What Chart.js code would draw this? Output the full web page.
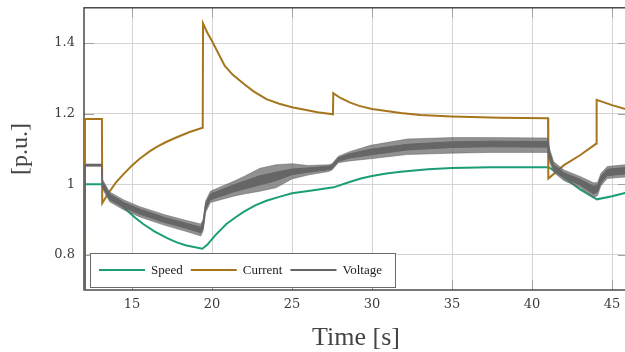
<!DOCTYPE html>
<html>
<head>
<meta charset="utf-8">
<script src="https://cdn.jsdelivr.net/npm/chart.js@4.4.1/dist/chart.umd.min.js"></script>
<style>
  html, body { margin: 0; padding: 0; background: #fff; overflow: hidden; }
  #wrap { width: 640px; height: 361px; margin-top: -9px; }
</style>
</head>
<body>
<div id="wrap"><canvas id="chart" width="640" height="361"></canvas></div>
<script>
const xTicks = [15, 20, 25, 30, 35, 40, 45];
const yTicks = [0.8, 1, 1.2, 1.4];
const yTickLabels = ["0.8", "1", "1.2", "1.4"];

const speedT = [12, 13.1, 13.3, 13.8, 14.5, 15.2, 15.7, 16.4, 17.2, 17.8, 18.4, 19.4, 19.7, 20.2, 20.9, 21.5, 22, 22.7, 23.4, 24.2, 25, 26.35, 27.6, 28.6, 29.3, 30, 30.9, 31.8, 33.5, 35, 37.4, 41.04, 42, 43, 44.06, 45, 46];
const speedV = [1.0, 1.0, 0.985, 0.962, 0.933, 0.905, 0.887, 0.866, 0.847, 0.835, 0.826, 0.817, 0.828, 0.855, 0.887, 0.907, 0.922, 0.94, 0.953, 0.964, 0.974, 0.983, 0.991, 1.006, 1.016, 1.023, 1.03, 1.035, 1.042, 1.046, 1.048, 1.048, 1.019, 0.985, 0.957, 0.966, 0.977];

const currentT = [12.04, 12.06, 13.12, 13.14, 13.5, 14.0, 14.5, 15.0, 15.5, 16.1, 16.6, 17.2, 17.8, 18.6, 19.42, 19.44, 19.7, 20, 20.8, 21.3, 22, 22.6, 23.4, 24.2, 25, 26.6, 27.56, 27.58, 28.0, 28.6, 29.2, 30, 31.8, 33, 35, 38, 41, 41.02, 42, 43, 44.02, 44.04, 45, 46];
const currentV = [0.5, 1.185, 1.185, 0.946, 0.973, 1.005, 1.03, 1.053, 1.073, 1.093, 1.107, 1.121, 1.133, 1.148, 1.16, 1.456, 1.43, 1.406, 1.335, 1.31, 1.284, 1.263, 1.241, 1.228, 1.218, 1.204, 1.198, 1.258, 1.245, 1.232, 1.222, 1.213, 1.202, 1.196, 1.192, 1.188, 1.187, 1.016, 1.054, 1.082, 1.115, 1.239, 1.224, 1.211];

// voltage is a noisy trace: dense core band plus the reach of its spikes
const voltageT = [12.04, 12.06, 13.1, 13.15, 13.6, 14.5, 15.5, 17.0, 18.4, 19.3, 19.45, 19.6, 19.9, 21.35, 22.0, 23.0, 24.0, 25.0, 26.0, 27.3, 27.5, 27.9, 28.6, 29.9, 32.2, 35.0, 37.4, 41.0, 41.1, 41.35, 42.0, 43.0, 43.85, 44.1, 44.3, 44.7, 45.8, 46.0];
const voltageHigh = [0.5, 1.056, 1.056, 1.008, 0.972, 0.948, 0.929, 0.906, 0.889, 0.878, 0.895, 0.945, 0.972, 0.998, 1.008, 1.024, 1.034, 1.043, 1.046, 1.051, 1.054, 1.075, 1.086, 1.099, 1.113, 1.12, 1.122, 1.121, 1.092, 1.056, 1.032, 1.014, 0.994, 0.997, 1.022, 1.042, 1.047, 1.047];
const voltageLow = [0.5, 1.052, 1.052, 0.994, 0.956, 0.934, 0.915, 0.892, 0.875, 0.862, 0.875, 0.928, 0.956, 0.978, 0.986, 0.998, 1.01, 1.027, 1.034, 1.041, 1.044, 1.065, 1.074, 1.083, 1.097, 1.104, 1.106, 1.105, 1.073, 1.042, 1.018, 0.998, 0.972, 0.978, 1.003, 1.024, 1.029, 1.029];
const voltageSpikeHigh = [0.5, 1.057, 1.057, 1.014, 0.978, 0.955, 0.936, 0.914, 0.897, 0.887, 0.9, 0.952, 0.98, 1.008, 1.022, 1.045, 1.055, 1.058, 1.053, 1.055, 1.058, 1.079, 1.092, 1.11, 1.128, 1.132, 1.132, 1.131, 1.1, 1.064, 1.04, 1.022, 1.004, 1.005, 1.03, 1.05, 1.055, 1.055];
const voltageSpikeLow = [0.5, 1.051, 1.051, 0.988, 0.95, 0.927, 0.907, 0.884, 0.866, 0.853, 0.868, 0.92, 0.948, 0.966, 0.972, 0.98, 0.99, 1.015, 1.026, 1.036, 1.04, 1.061, 1.066, 1.072, 1.084, 1.088, 1.09, 1.09, 1.062, 1.034, 1.01, 0.99, 0.962, 0.968, 0.995, 1.016, 1.02, 1.02];

const green = "#1b9e77";
const brown = "#a6761d";
const gray = "#666666";

function pts(t, v) {
  return t.map((x, i) => ({ x: x, y: v[i] }));
}

const framePlugin = {
  id: "frame",
  beforeDatasetsDraw(chart) {
    const { ctx, chartArea: a, scales } = chart;
    ctx.save();
    // inner tick marks
    ctx.strokeStyle = "#a0a0a0";
    ctx.lineWidth = 1;
    ctx.beginPath();
    xTicks.forEach(v => {
      const px = Math.round(scales.x.getPixelForValue(v)) + 0.5;
      ctx.moveTo(px, a.bottom); ctx.lineTo(px, a.bottom - 10);
      ctx.moveTo(px, a.top); ctx.lineTo(px, a.top + 10);
    });
    yTicks.forEach(v => {
      const py = Math.round(scales.y.getPixelForValue(v)) + 0.5;
      ctx.moveTo(a.left, py); ctx.lineTo(a.left + 10, py);
      ctx.moveTo(a.right, py); ctx.lineTo(a.right - 10, py);
    });
    ctx.stroke();
    ctx.strokeStyle = "#2e2e2e";
    ctx.lineWidth = 1.3;
    ctx.strokeRect(a.left, a.top, a.right - a.left, a.bottom - a.top);
    ctx.restore();
  },
  afterDraw(chart) {
    const { ctx, chartArea: a } = chart;
    const items = chart.data.datasets.filter(d => d.label);
    ctx.save();
    ctx.font = "13px 'Liberation Serif'";
    let x = a.left + 15;
    const parts = items.map(d => {
      const p = { d: d, lx: x, tx: x + 52 };
      x = p.tx + ctx.measureText(d.label).width + 8;
      return p;
    });
    const left = a.left + 6, top = a.bottom - 37, h = 34;
    const right = x - 8 + 13;
    const ly = a.bottom - 20;
    ctx.fillStyle = "#fff";
    ctx.fillRect(left, top, right - left, h);
    ctx.strokeStyle = "#6a6a6a";
    ctx.lineWidth = 1;
    ctx.strokeRect(left + 0.5, top + 0.5, right - left, h);
    parts.forEach(p => {
      ctx.strokeStyle = p.d.borderColor;
      ctx.lineWidth = 2;
      ctx.beginPath();
      ctx.moveTo(p.lx, ly); ctx.lineTo(p.lx + 46, ly);
      ctx.stroke();
      ctx.fillStyle = "#222";
      ctx.textBaseline = "alphabetic";
      ctx.fillText(p.d.label, p.tx, ly + 4);
    });
    ctx.restore();
  }
};

new Chart(document.getElementById("chart"), {
  type: "line",
  data: {
    datasets: [
      {
        label: "Speed",
        data: pts(speedT, speedV),
        borderColor: green,
        borderWidth: 2,
        pointRadius: 0,
        tension: 0,
        fill: false,
        order: 2,
      },
      {
        label: "Current",
        data: pts(currentT, currentV),
        borderColor: brown,
        borderWidth: 2,
        pointRadius: 0,
        tension: 0,
        fill: false,
        order: 1,
      },
      {
        label: "Voltage",
        data: pts(voltageT, voltageHigh),
        borderColor: gray,
        backgroundColor: gray,
        borderWidth: 1,
        pointRadius: 0,
        tension: 0,
        fill: "+1",
        order: 0,
      },
      {
        data: pts(voltageT, voltageLow),
        borderColor: gray,
        borderWidth: 1,
        pointRadius: 0,
        tension: 0,
        fill: false,
        order: 0,
      },
      {
        data: pts(voltageT, voltageSpikeHigh),
        borderColor: "rgba(102,102,102,0.5)",
        backgroundColor: "rgba(102,102,102,0.72)",
        borderWidth: 1,
        pointRadius: 0,
        tension: 0,
        fill: "+1",
        order: 0,
      },
      {
        data: pts(voltageT, voltageSpikeLow),
        borderColor: "rgba(102,102,102,0.5)",
        borderWidth: 1,
        pointRadius: 0,
        tension: 0,
        fill: false,
        order: 0,
      },
    ],
  },
  options: {
    responsive: false,
    animation: false,
    layout: { padding: { top: 8, right: 12, left: 0, bottom: 0 } },
    plugins: {
      legend: { display: false },
      tooltip: { enabled: false },
      filler: { drawTime: "beforeDatasetDraw" },
    },
    scales: {
      x: {
        type: "linear",
        min: 12,
        max: 46,
        afterBuildTicks: s => { s.ticks = xTicks.map(v => ({ value: v })); },
        afterFit: s => { s.height = 62; },
        grid: { color: "#d4d4d4", drawTicks: false },
        border: { display: false },
        ticks: {
          padding: 7,
          color: "#3c3c3c",
          font: { family: "'DejaVu Serif'", size: 13 },
        },
        title: {
          display: true,
          text: "Time [s]",
          color: "#444",
          font: { family: "'Liberation Serif'", size: 26, lineHeight: 1.05 },
          padding: { top: 0, bottom: 0 },
        },
      },
      y: {
        min: 0.7,
        max: 1.5,
        afterBuildTicks: s => { s.ticks = yTicks.map(v => ({ value: v })); },
        afterFit: s => { s.width = 84; },
        grid: { color: "#d4d4d4", drawTicks: false },
        border: { display: false },
        ticks: {
          padding: 9,
          color: "#3c3c3c",
          font: { family: "'DejaVu Serif'", size: 13 },
          callback: (v, i) => yTickLabels[i],
        },
        title: {
          display: true,
          text: "[p.u.]",
          color: "#444",
          font: { family: "'Liberation Serif'", size: 24 },
          padding: { top: 6, bottom: 0 },
        },
      },
    },
  },
  plugins: [framePlugin],
});
</script>
</body>
</html>
